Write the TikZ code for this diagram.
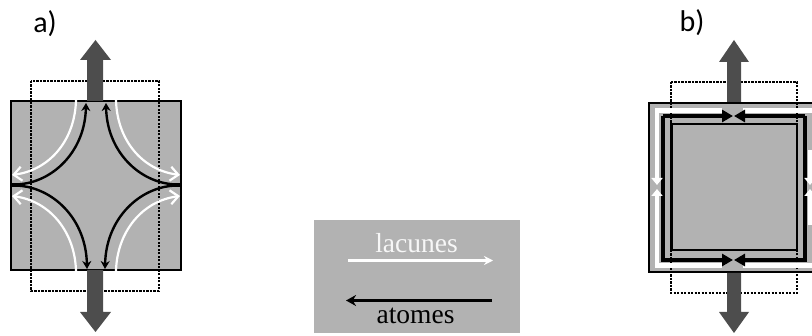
\documentclass[tikz,border=0pt]{standalone}
\usepackage{fontspec}
\setmainfont{Liberation Serif}
\newfontfamily\labelfont{Carlito}
\usetikzlibrary{arrows.meta}
\definecolor{panelgray}{HTML}{B2B2B2}
\definecolor{loadgray}{HTML}{4D4D4D}
\tikzset{
  x=1pt,y=-1pt,
  panel/.style={fill=panelgray,draw=black,line width=2pt},
  dotrect/.style={draw=black,line width=2.6pt,dash pattern=on 2.2pt off 1.3pt},
  load/.style={draw=none,fill=loadgray},
  atom/.style={draw=black,line width=2.4pt,-{Stealth[length=8pt,width=9pt]}},
  vacancy/.style={draw=white,line width=2.2pt,-{Straight Barb[length=8pt,width=14pt]}},
  atomb/.style={draw=black,line width=4pt,-{Triangle[length=11pt,width=12pt]}},
  vacb/.style={draw=white,line width=4.5pt,-{Triangle[length=7pt,width=11pt]}},
  lab/.style={font=\labelfont\fontsize{30}{30}\selectfont,text=black,inner sep=0pt},
  legend/.style={font=\fontsize{27.5}{27.5}\selectfont,inner sep=0pt}
}
\begin{document}
\begin{tikzpicture}
\useasboundingbox (0,0) rectangle (812,336);
% --- a
\node[lab] (la) at (45,24) {a)};
\draw[panel] (11,101) rectangle (181,270);
\draw[dotrect] (31,81) rectangle (159,291);
\fill[load] (87,101)--(87,60)--(80,60)--(95.5,40)--(111,60)--(103,60)--(103,101)--cycle;
\fill[load] (87,270)--(87,312)--(80,312)--(95.5,332)--(111,312)--(103,312)--(103,270)--cycle;
\coordinate (atl) at (12,185); \coordinate (atr) at (180,185);
\draw[black,line width=4pt] (12,185)--(24,185);
\draw[black,line width=4pt] (168,185)--(180,185);
\draw[atom] (atl) -- (22,184) .. controls (55,180) and (85,150) .. (86,103);
\draw[atom] (atr) -- (170,184) .. controls (137,180) and (107,150) .. (106,103);
\draw[atom] (atl) -- (22,186) .. controls (55,190) and (86,220) .. (87,269);
\draw[atom] (atr) -- (170,186) .. controls (137,190) and (106,220) .. (105,269);
\draw[vacancy] (76,100) .. controls (75,140) and (50,170) .. (12,175);
\draw[vacancy] (116,100) .. controls (117,140) and (142,170) .. (180,175);
\draw[vacancy] (76,271) .. controls (75,232) and (50,201) .. (12,196);
\draw[vacancy] (116,271) .. controls (117,232) and (142,201) .. (180,196);
% --- b
\node[lab] (lb) at (692,23) {b)};
\fill[panelgray] (649,103) rectangle (812,272);
\draw[dotrect,line width=2.2pt] (671,82) rectangle (797,293);
\draw[black,line width=2.2pt] (812,103)--(649,103)--(649,272)--(812,272);
\fill[load] (727,102)--(727,62)--(719,62)--(734,40)--(749,62)--(741,62)--(741,102)--cycle;
\fill[load] (727,273)--(727,312)--(719,312)--(734,333)--(749,312)--(741,312)--(741,273)--cycle;
\draw[black,line width=2.4pt,fill=panelgray] (671.5,124) rectangle (797,250);
\draw[white,line width=4.5pt] (657,176)--(657,110.5)--(722,110.5);
\draw[white,line width=4.5pt] (657,194)--(657,265.5)--(722,265.5);
\draw[white,line width=4.5pt] (743,110.5)--(812,110.5);
\draw[white,line width=4.5pt] (743,265.5)--(812,265.5);
\draw[atomb] (663,116) -- (733,116);
\draw[atomb] (805,116) -- (734,116);
\draw[atomb] (663,116) -- (663,260) -- (733,260);
\draw[atomb] (805,116) -- (805,260) -- (734,260);
\draw[vacb] (657,150) -- (657,185);
\draw[vacb] (657,225) -- (657,189);
\draw[vacb] (810,150) -- (810,185);
\draw[vacb] (810,225) -- (810,189);
% --- legend
\fill[panelgray] (314,220) rectangle (520,333);
\coordinate (lacA) at (348,260.5); \coordinate (lacB) at (493,260.5);
\coordinate (atA) at (492,300.5); \coordinate (atB) at (346,300.5);
\draw[white,line width=2.6pt,-{Stealth[length=9pt,width=9pt]}] (lacA) -- (lacB);
\draw[black,line width=3.6pt,-{Stealth[length=10pt,width=11pt]}] (atA) -- (atB);
\node[legend,text=white!90!panelgray] (tl) at (416.5,243.5) {lacunes};
\node[legend,text=black] (ta) at (415.5,316) {atomes};
\end{tikzpicture}
\end{document}
